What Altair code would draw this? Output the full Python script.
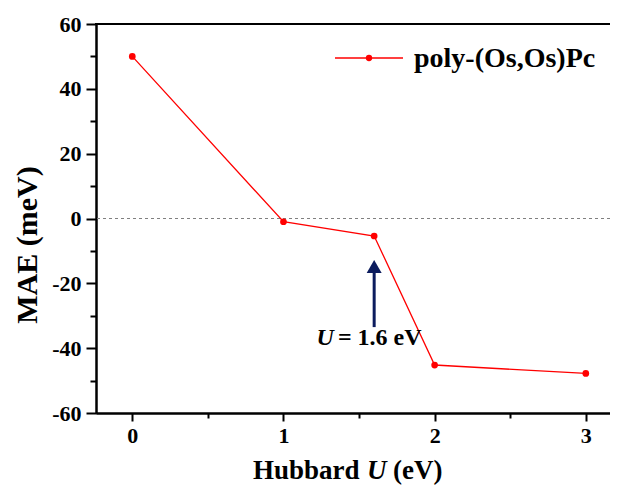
import altair as alt
import pandas as pd

# ---- data ----
hubbard_u = [0, 1, 1.6, 2, 3]
mae_mev = [50, -1, -5.4, -45.2, -47.8]
series_name = "poly-(Os,Os)Pc"

x_major = [0, 1, 2, 3]
x_minor = [0.5, 1.5, 2.5]
y_major = [-60, -40, -20, 0, 20, 40, 60]
y_minor = [-50, -30, -10, 10, 30, 50]

arrow_x = [1.6]
arrow_tail = [-33.5]
arrow_head_base = [-16.0]
arrow_head_mid = [-14.8]

annot_u_x = [1.218]
annot_rest_x = [1.36]
annot_y = [-39.0]
annot_text = ["= 1.6 eV"]

FONT = "Liberation Serif"
RED = "#ff0000"
NAVY = "#0c1c5e"

W, H = 514, 389
xscale = alt.Scale(domain=[-0.24, 3.16], nice=False, zero=False)
yscale = alt.Scale(domain=[-60, 60], nice=False, zero=False)

df = pd.DataFrame({"U": hubbard_u, "MAE": mae_mev})
dummy = pd.DataFrame({"a": [0]})

# zero reference line
zero = alt.Chart(pd.DataFrame({"z": [0]})).mark_rule(
    color="#808080", strokeDash=[3, 3], strokeWidth=1
).encode(y=alt.Y("z:Q", scale=yscale, axis=None))

# main series with major axes
lab = dict(labelFont=FONT, labelFontWeight="bold", labelFontSize=22,
           labelColor="black", labelExpr="'' + datum.value")
major_x_axis = alt.Axis(values=x_major, orient="bottom", title=None, tickSize=8,
                        labelPadding=4, grid=False, **lab)
major_y_axis = alt.Axis(values=y_major, orient="left", title=None, tickSize=10,
                        labelPadding=5, grid=False, **lab)

line = alt.Chart(df).mark_line(color=RED, strokeWidth=1.3).encode(
    x=alt.X("U:Q", scale=xscale, axis=major_x_axis),
    y=alt.Y("MAE:Q", scale=yscale, axis=major_y_axis),
)
pts = alt.Chart(df).mark_point(filled=True, color=RED, size=45, opacity=1).encode(
    x=alt.X("U:Q", scale=xscale, axis=None),
    y=alt.Y("MAE:Q", scale=yscale, axis=None),
)

# arrow stem carries the minor-tick axes
arrow_df = pd.DataFrame({"x": arrow_x, "y1": arrow_tail, "y2": arrow_head_base,
                         "ym": arrow_head_mid})
minor_x_axis = alt.Axis(values=x_minor, orient="bottom", title=None, tickSize=5,
                        labels=False, grid=False)
minor_y_axis = alt.Axis(values=y_minor, orient="left", title=None, tickSize=6,
                        labels=False, grid=False)
stem = alt.Chart(arrow_df).mark_rule(color=NAVY, strokeWidth=3).encode(
    x=alt.X("x:Q", scale=xscale, axis=minor_x_axis),
    y=alt.Y("y1:Q", scale=yscale, axis=minor_y_axis),
    y2="y2:Q",
)
head = alt.Chart(arrow_df).mark_point(
    filled=True, color=NAVY, opacity=1, size=225,
    shape="M-1,0.87L1,0.87L0,-0.87Z"
).encode(
    x=alt.X("x:Q", scale=xscale, axis=None),
    y=alt.Y("ym:Q", scale=yscale, axis=None),
)

# annotation "U = 1.6 eV"
ann_df = pd.DataFrame({"xu": annot_u_x, "xr": annot_rest_x, "y": annot_y,
                       "t": annot_text, "u": ["U"]})
ann_u = alt.Chart(ann_df).mark_text(
    font=FONT, fontSize=24, fontWeight="bold", fontStyle="italic",
    align="left", baseline="alphabetic", color="black"
).encode(x=alt.X("xu:Q", scale=xscale, axis=None),
         y=alt.Y("y:Q", scale=yscale, axis=None), text="u:N")
ann_rest = alt.Chart(ann_df).mark_text(
    font=FONT, fontSize=24, fontWeight="bold",
    align="left", baseline="alphabetic", color="black"
).encode(x=alt.X("xr:Q", scale=xscale, axis=None),
         y=alt.Y("y:Q", scale=yscale, axis=None), text="t:N")

# legend (manual)
leg_line = alt.Chart(dummy).mark_rule(color=RED, strokeWidth=1.5).encode(
    x=alt.value(239), x2=alt.value(307), y=alt.value(34))
leg_pt = alt.Chart(dummy).mark_point(filled=True, color=RED, size=40, opacity=1).encode(
    x=alt.value(273), y=alt.value(34))
leg_txt = alt.Chart(dummy).mark_text(
    font=FONT, fontSize=28, fontWeight="bold", align="left",
    baseline="alphabetic", color="black", text=series_name
).encode(x=alt.value(318), y=alt.value(43))

# top frame line
top = alt.Chart(dummy).mark_rule(color="black", strokeWidth=2).encode(
    x=alt.value(-1), x2=alt.value(W), y=alt.value(0))

# axis titles (mixed styles)
ytitle = alt.Chart(dummy).mark_text(
    font=FONT, fontSize=30, fontWeight="bold", angle=270, align="center",
    baseline="middle", color="black", text="MAE (meV)"
).encode(x=alt.value(-68), y=alt.value(221))
xt1 = alt.Chart(dummy).mark_text(
    font=FONT, fontSize=27, fontWeight="bold", align="left",
    baseline="alphabetic", color="black", text="Hubbard"
).encode(x=alt.value(157), y=alt.value(455))
xt2 = alt.Chart(dummy).mark_text(
    font=FONT, fontSize=27, fontWeight="bold", fontStyle="italic", align="left",
    baseline="alphabetic", color="black", text="U"
).encode(x=alt.value(271), y=alt.value(455))
xt3 = alt.Chart(dummy).mark_text(
    font=FONT, fontSize=27, fontWeight="bold", align="left",
    baseline="alphabetic", color="black", text="(eV)"
).encode(x=alt.value(297), y=alt.value(455))

chart = alt.layer(
    zero, line, pts, stem, head, ann_u, ann_rest,
    leg_line, leg_pt, leg_txt, top, ytitle, xt1, xt2, xt3
).resolve_axis(
    x="independent", y="independent"
).properties(
    width=W, height=H,
    padding={"left": 88, "top": 16, "right": 0, "bottom": 75},
    autosize=alt.AutoSizeParams(type="none"),
).configure(
    font=FONT
).configure_view(
    stroke=None
).configure_axis(
    domainColor="black", domainWidth=2, tickColor="black", tickWidth=2,
    labelFont=FONT, labelFontWeight="bold", labelFontSize=22, labelColor="black",
    grid=False,
)

chart.save("out.html", embed_options={"renderer": "svg", "actions": False})
